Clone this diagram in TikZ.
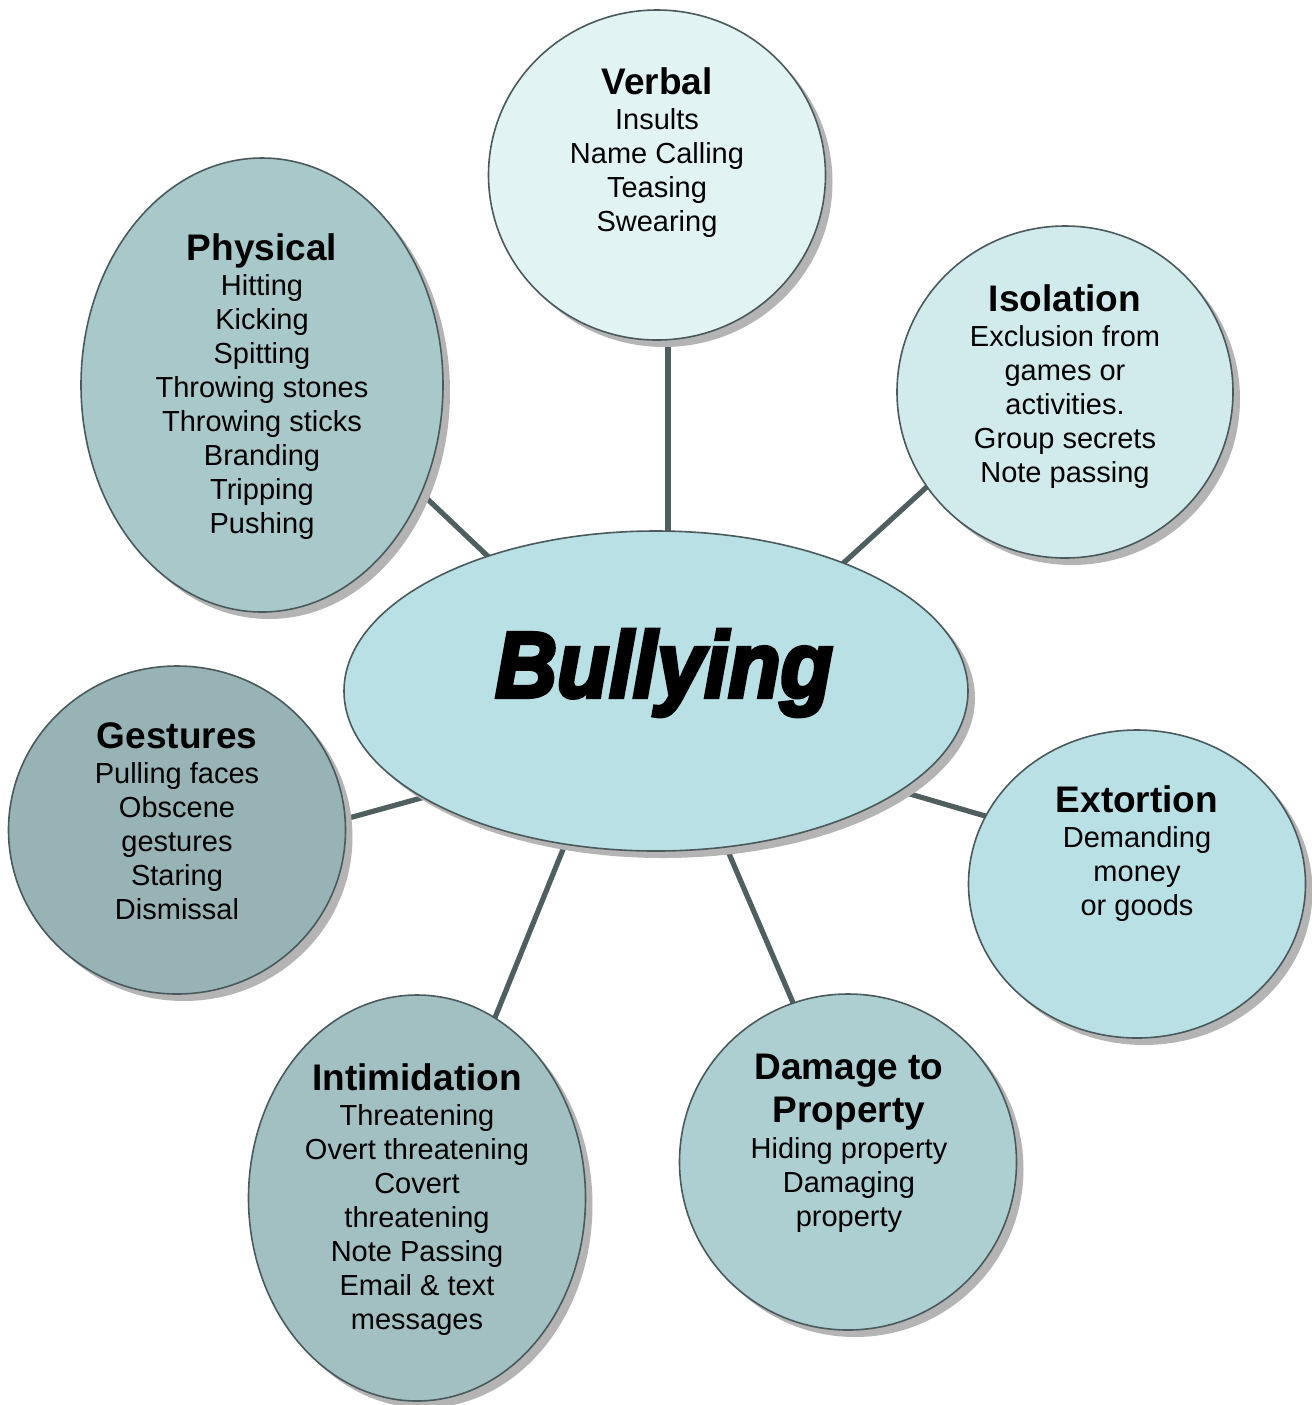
\documentclass[tikz,border=0pt]{standalone}
\usepackage{fontspec}
\setmainfont{Liberation Sans}
\newfontface\bullyfont[FakeBold=4.5]{Liberation Sans Bold Italic}
\usetikzlibrary{shapes.geometric,shadows}

\definecolor{rimcol}{HTML}{4A5A5C}
\definecolor{linkcol}{HTML}{4F5F60}
\definecolor{verbalfill}{HTML}{E2F3F4}
\definecolor{physfill}{HTML}{A8C8CA}
\definecolor{isofill}{HTML}{D1EAEC}
\definecolor{centfill}{HTML}{B9E0E4}
\definecolor{gestfill}{HTML}{97B3B5}
\definecolor{extfill}{HTML}{B9E0E4}
\definecolor{intfill}{HTML}{A2C0C2}
\definecolor{dmgfill}{HTML}{AECFD2}
\definecolor{shadecol}{HTML}{B4B4B4}

\tikzset{
  bubble/.style={ellipse, draw=rimcol, line width=0.8pt, inner sep=0pt,
    drop shadow={shadow xshift=3.5pt, shadow yshift=-3.5pt,
                 fill=shadecol, opacity=1}},
  link/.style={draw=linkcol, line width=2.6pt},
  label/.style={align=center, inner sep=0pt, anchor=north,
    font=\fontsize{14.5}{17}\selectfont}
}
\newcommand{\hd}[1]{{\fontsize{18.5}{21.5}\selectfont\bfseries #1}}

\begin{document}
\begin{tikzpicture}[x=0.5pt,y=-0.5pt]
\useasboundingbox (0,0) rectangle (1312,1405);

% connector end points
\coordinate (verbal-foot) at (668,330);
\coordinate (hub-n)  at (668,545);
\coordinate (phys-foot) at (420,492);
\coordinate (hub-nw) at (495,563);
\coordinate (iso-foot) at (930,484);
\coordinate (hub-ne) at (838,568);
\coordinate (gest-foot) at (338,821);
\coordinate (hub-w)  at (432,795);
\coordinate (ext-foot) at (992,818);
\coordinate (hub-e)  at (893,789);
\coordinate (int-foot) at (490,1030);
\coordinate (hub-sw) at (566,842);
\coordinate (dmg-foot) at (797,1012);
\coordinate (hub-se) at (724,842);

% spokes
\draw[link] (verbal-foot) -- (hub-n);
\draw[link] (phys-foot) -- (hub-nw);
\draw[link] (iso-foot) -- (hub-ne);
\draw[link] (gest-foot) -- (hub-w);
\draw[link] (ext-foot) -- (hub-e);
\draw[link] (int-foot) -- (hub-sw);
\draw[link] (dmg-foot) -- (hub-se);

% bubbles
\node[bubble, fill=verbalfill, minimum width=168.5pt, minimum height=165pt] (verbal) at (657,175) {};
\node[bubble, fill=physfill, minimum width=181pt, minimum height=227pt] (physical) at (262,385) {};
\node[bubble, fill=isofill, minimum width=168pt, minimum height=166pt] (isolation) at (1065,392) {};
\node[bubble, fill=centfill, minimum width=312pt, minimum height=160pt] (hub) at (656,691) {};
\node[bubble, fill=gestfill, minimum width=168.5pt, minimum height=164pt] (gestures) at (177,830) {};
\node[bubble, fill=extfill, minimum width=168.5pt, minimum height=154pt] (extortion) at (1137,884) {};
\node[bubble, fill=intfill, minimum width=168.5pt, minimum height=203pt] (intimidation) at (417,1198) {};
\node[bubble, fill=dmgfill, minimum width=168.5pt, minimum height=168pt] (damage) at (848,1162) {};

% texts
\node[label] (verbal-txt) at (657,67) {\hd{Verbal}\\[0.5pt]Insults\\Name Calling\\Teasing\\Swearing};
\node[label] (physical-txt) at (262,233) {\hd{Physical}\\[0.5pt]Hitting\\Kicking\\Spitting\\Throwing stones\\Throwing sticks\\Branding\\Tripping\\Pushing};
\node[label] (isolation-txt) at (1065,284) {\hd{Isolation}\\[0.5pt]Exclusion from\\games or\\activities.\\Group secrets\\Note passing};
\node[label] (gestures-txt) at (177,722) {\hd{Gestures}\\[0.5pt]Pulling faces\\Obscene\\gestures\\Staring\\Dismissal};
\node[label] (extortion-txt) at (1137,785) {\hd{Extortion}\\[0.5pt]Demanding\\money\\or goods};
\node[label] (intimidation-txt) at (417,1063) {\hd{Intimidation}\\[0.5pt]Threatening\\Overt threatening\\Covert\\threatening\\Note Passing\\Email \& text\\messages};
\node[label] (damage-txt) at (849,1054) {\hd{Damage to}\\[4.5pt]\hd{Property}\\[1pt]Hiding property\\Damaging\\property};

\node[inner sep=0pt, anchor=base] (hub-txt) at (664,697)
  {\scalebox{0.92}[1]{\fontsize{46.5}{50}\bullyfont Bullying}};
\end{tikzpicture}
\end{document}
